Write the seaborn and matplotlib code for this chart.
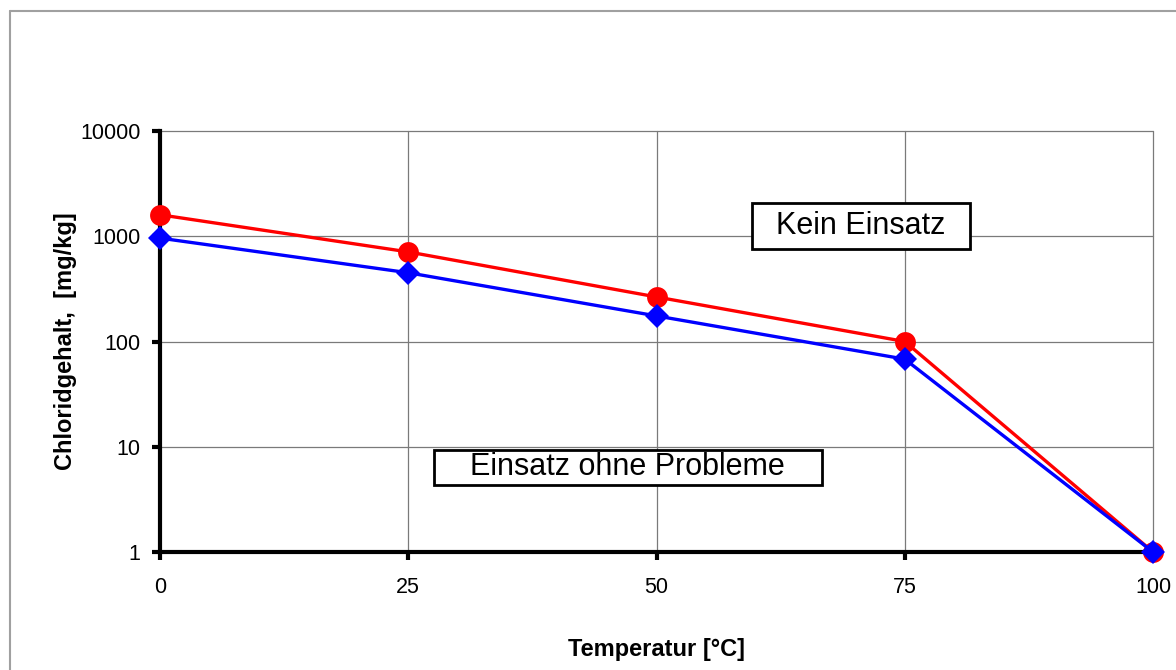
import numpy as np
import pandas as pd
import matplotlib
matplotlib.use("Agg")
import matplotlib.pyplot as plt
import seaborn as sns
from matplotlib.lines import Line2D

temperature = [0, 25, 50, 75, 100]
red_values = [1600, 710, 265, 100, 1]
blue_values = [960, 450, 175, 68, 1]
y_ticks = [1, 10, 100, 1000, 10000]
y_tick_labels = ["1", "10", "100", "1000", "10000"]
x_ticks = [0, 25, 50, 75, 100]

sns.set_theme(style="white")
plt.rcParams['font.family'] = ['Liberation Sans', 'DejaVu Sans']

fig = plt.figure(figsize=(11.76, 6.70), dpi=100)
ax = fig.add_axes([160/1176, 1-552/670, (1153-160)/1176, (552-131)/670])

df_red = pd.DataFrame({"T": temperature, "v": red_values})
df_blue = pd.DataFrame({"T": temperature, "v": blue_values})

sns.lineplot(data=df_red, x="T", y="v", ax=ax, color="#FF0000", lw=2.4,
             marker="o", markersize=15, markeredgewidth=0, clip_on=False, zorder=3)
sns.lineplot(data=df_blue, x="T", y="v", ax=ax, color="#0000FF", lw=2.4,
             marker="D", markersize=12, markeredgewidth=0, clip_on=False, zorder=4)

ax.set_yscale("log")
ax.set_xlim(0, 100)
ax.set_ylim(1, 10000)
ax.set_yticks(y_ticks)
ax.set_yticklabels(y_tick_labels)
ax.yaxis.set_minor_locator(matplotlib.ticker.NullLocator())
ax.set_xticks(x_ticks)
ax.set_xticklabels([str(t) for t in x_ticks])

ax.grid(True, which="major", color="#7a7a7a", lw=0.9)
for gl in ax.get_xgridlines() + ax.get_ygridlines():
    gl.set_clip_on(False)
for s in ["top", "right"]:
    ax.spines[s].set_visible(False)
for s in ["left", "bottom"]:
    ax.spines[s].set_color("black")
    ax.spines[s].set_linewidth(3)
    ax.spines[s].set_zorder(2.5)

ax.tick_params(axis="both", which="major", direction="out", length=6, width=3,
               color="black", labelsize=15.5, labelcolor="black",
               bottom=True, left=True)
ax.tick_params(axis="x", pad=12)
ax.tick_params(axis="y", pad=8)

ax.set_xlabel("Temperatur [°C]", fontsize=17, fontweight="bold", color="black", labelpad=29)
ax.set_ylabel("Chloridgehalt,  [mg/kg]", fontsize=17, fontweight="bold", color="black", labelpad=2)

ax.text(70.6, 1250, "  Kein Einsatz  ", fontsize=22, ha="center", va="center",
        bbox=dict(boxstyle="square,pad=0.25", fc="white", ec="black", lw=2),
        zorder=5, color="black")
ax.text(47.1, 6.4, "    Einsatz ohne Probleme    ", fontsize=22, ha="center", va="center",
        bbox=dict(boxstyle="square,pad=0.08", fc="white", ec="black", lw=2),
        zorder=5, color="black")

# outer frame
fig.add_artist(Line2D([9.5/1176, 1.0], [1-10.5/670, 1-10.5/670], transform=fig.transFigure,
                      color="#a0a0a0", lw=1.5))
fig.add_artist(Line2D([9.5/1176, 9.5/1176], [0, 1-10.5/670], transform=fig.transFigure,
                      color="#a0a0a0", lw=1.5))

fig.savefig("out.png", dpi=100)
